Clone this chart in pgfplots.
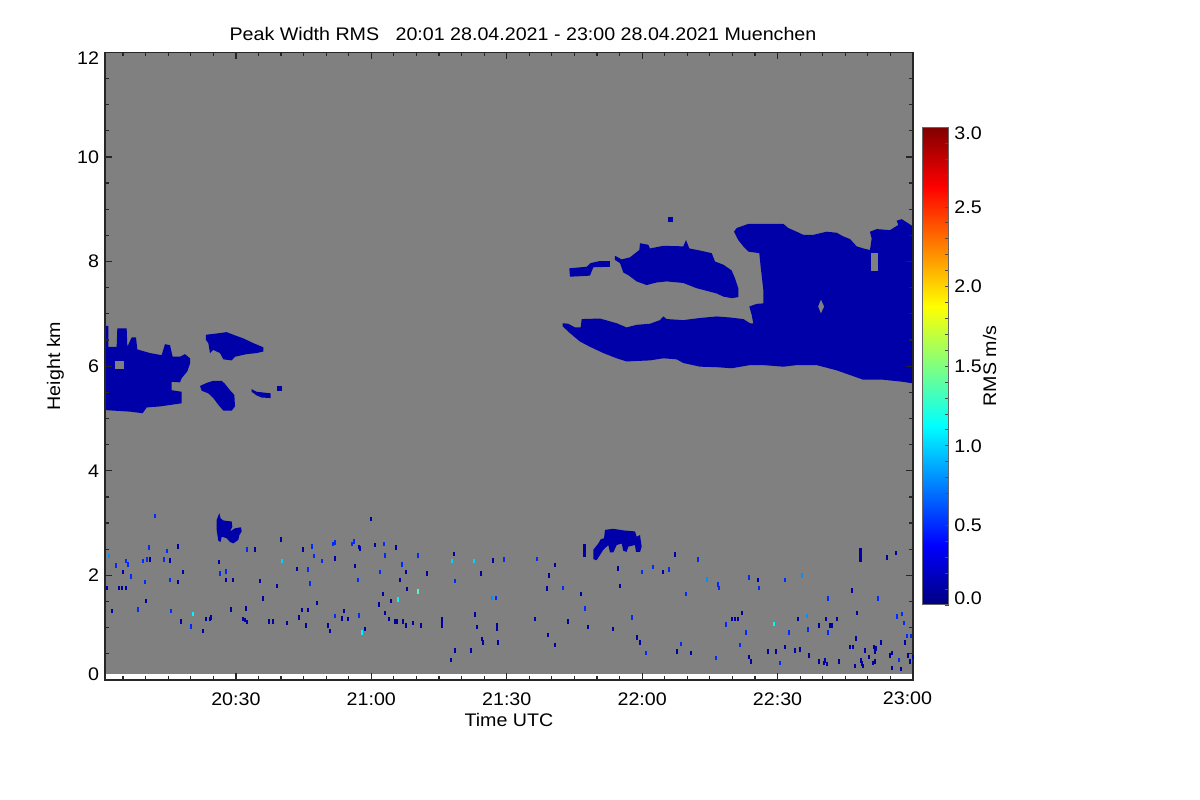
\documentclass[border=0pt]{standalone}
\usepackage{fontspec}
\setmainfont{Liberation Sans}[FakeStretch=1.08]
\usepackage{pgfplots}
\usepackage{pgfplotstable}
\pgfplotsset{compat=1.18}
\definecolor{bg}{RGB}{128,128,128}
\definecolor{cloud}{rgb}{0,0,0.66}
\pgfplotstableread{
x y v
10.60 2.54 0.5
14.59 2.47 0.5
17.02 2.56 0.1
1.89 2.38 0.8
5.58 2.28 0.5
5.95 2.22 0.5
9.27 2.28 0.5
10.23 2.31 0.5
10.82 2.31 0.1
13.92 2.31 0.5
15.25 2.29 0.1
3.29 2.20 0.5
4.84 2.07 0.1
6.76 1.99 0.5
9.71 1.88 0.5
15.25 1.92 0.5
17.02 1.88 0.1
18.13 2.07 0.1
1.37 1.77 0.1
3.95 1.77 0.1
4.62 1.77 0.1
5.50 1.77 0.1
9.93 1.52 0.1
2.40 1.33 0.1
8.16 1.36 0.5
15.47 1.33 0.5
20.49 1.27 1.1
17.69 1.13 0.1
19.90 1.03 0.5
22.56 0.95 0.1
23.23 1.17 0.1
24.11 1.17 0.1
24.33 1.20 0.1
26.11 2.26 0.1
27.66 2.08 0.5
27.66 1.92 0.1
29.21 1.92 0.1
26.40 2.04 0.5
28.76 1.36 0.1
31.42 1.17 0.1
32.01 1.16 0.1
32.46 1.12 0.1
32.09 1.38 0.1
35.85 1.57 0.1
35.19 1.90 0.1
38.95 1.81 0.1
32.31 2.50 0.5
34.08 2.50 0.1
39.84 2.69 0.1
37.26 1.13 0.1
38.07 1.13 0.1
41.17 1.10 0.1
40.06 2.28 1.0
43.38 2.13 0.1
44.71 2.50 0.1
46.71 2.56 0.5
47.22 2.38 0.5
45.82 2.12 0.5
46.26 1.85 0.5
48.92 2.28 0.5
51.80 2.33 0.1
51.43 2.61 0.5
51.80 2.64 0.5
55.72 2.61 0.5
56.08 2.66 0.5
57.27 2.55 0.1
57.49 2.52 0.1
56.23 2.19 0.1
56.89 1.92 0.5
47.81 1.48 0.1
44.49 1.35 0.1
45.82 1.35 0.1
53.80 1.33 0.1
51.80 1.23 0.5
53.35 1.18 0.1
54.68 1.17 0.1
57.12 1.24 0.5
43.83 1.20 0.1
45.38 1.05 0.1
50.25 1.05 0.1
50.69 0.95 0.1
57.78 0.92 1.1
58.45 0.98 0.1
60.66 2.59 0.1
62.66 2.61 0.5
65.31 2.54 0.1
62.88 2.39 0.5
70.19 2.39 0.5
78.16 2.42 0.1
66.64 2.22 0.5
67.53 2.07 0.1
61.77 2.07 0.5
72.18 2.04 0.1
66.20 1.92 0.1
67.75 1.75 0.1
62.43 1.65 0.1
64.21 1.52 0.1
65.76 1.55 1.1
70.19 1.70 1.35
61.55 1.45 0.1
62.88 1.29 0.1
63.76 1.17 0.1
65.09 1.13 0.1
65.68 1.13 0.1
66.94 1.13 0.1
69.08 1.10 0.1
70.85 1.05 0.1
67.53 1.05 0.1
75.50 1.17 0.1
75.50 1.10 0.1
75.50 1.05 0.1
78.38 1.90 0.5
77.79 2.28 1.0
82.67 2.28 1.0
84.14 2.04 0.1
86.80 2.29 0.1
89.24 2.31 0.5
87.54 1.58 0.5
86.58 1.58 0.8
82.81 1.26 0.1
83.26 1.02 0.1
87.69 1.06 0.1
87.69 0.98 0.1
84.36 0.79 0.1
84.59 0.73 0.1
87.91 0.73 0.1
81.93 0.57 0.1
78.38 0.57 0.1
77.50 0.39 0.1
96.55 2.32 0.5
100.54 2.21 0.1
99.21 2.01 0.1
98.76 1.76 0.1
102.31 1.77 0.5
106.30 1.65 0.1
107.18 1.38 0.5
96.11 1.17 0.1
103.56 1.13 0.1
98.99 0.87 0.1
100.54 0.68 0.1
107.85 1.02 0.1
113.38 0.98 0.1
114.49 2.14 0.1
114.93 1.81 0.1
117.59 1.20 0.5
119.96 2.07 0.5
118.70 0.82 0.1
119.37 0.73 0.1
122.25 2.17 0.5
124.47 2.07 0.1
125.80 2.12 0.5
127.13 2.41 0.1
132.22 2.31 0.5
134.22 1.93 0.8
136.65 1.83 0.5
137.02 1.77 0.5
129.56 1.65 0.5
143.52 1.97 0.5
145.66 1.92 0.1
145.74 1.77 0.5
151.49 1.92 0.5
155.26 2.01 0.8
161.17 1.57 0.5
166.41 1.72 0.1
172.10 1.57 0.5
174.09 2.35 0.1
176.08 2.44 0.1
141.97 1.29 0.1
139.83 1.17 0.1
140.57 1.17 0.1
141.08 1.17 0.1
138.43 1.07 0.5
142.86 0.92 0.5
149.13 1.08 1.1
154.52 1.17 0.1
156.52 1.23 0.8
160.65 1.17 0.1
163.16 1.17 0.1
159.03 1.05 0.1
161.46 1.05 0.1
162.05 1.05 0.1
156.59 0.97 0.5
161.02 0.92 0.5
152.38 0.92 0.5
167.44 1.29 0.1
176.30 1.22 0.5
177.41 1.27 0.5
177.93 1.10 0.5
167.22 0.80 0.1
120.70 0.52 0.5
127.57 0.55 0.1
128.46 0.70 0.5
130.67 0.52 0.1
136.21 0.43 0.5
141.53 0.68 0.5
143.52 0.45 0.1
143.96 0.36 0.1
147.73 0.55 0.1
149.50 0.55 0.1
150.39 0.33 0.5
151.49 0.64 0.1
153.71 0.57 0.1
154.89 0.59 0.1
156.81 0.48 0.1
159.03 0.36 0.1
160.36 0.38 0.1
160.14 0.33 0.1
160.80 0.31 0.1
163.46 0.36 0.1
165.89 0.64 0.1
166.56 0.64 0.1
167.00 0.28 0.1
168.33 0.38 0.1
168.70 0.32 0.1
168.77 0.28 0.1
169.22 0.57 0.1
170.10 0.45 0.1
170.99 0.33 0.1
171.21 0.64 0.1
171.43 0.55 0.1
171.65 0.61 0.1
171.50 0.36 0.1
172.76 0.73 0.1
174.76 0.48 0.1
175.20 0.52 0.1
175.20 0.24 0.1
176.90 0.39 0.5
177.19 0.22 0.1
178.08 0.73 0.1
178.59 0.85 0.5
179.41 0.85 0.5
178.82 0.48 0.1
179.18 0.36 0.1
179.85 0.45 0.1
59.93 3.09 0.1
12.08 3.14 0.5
}\speckles
\begin{document}
\fontsize{9.1bp}{10.9bp}\selectfont
\begin{tikzpicture}
\path[use as bounding box] (0,0) rectangle (600bp,400bp);
\begin{axis}[
  at={(52.5bp,60bp)}, anchor=south west, scale only axis,
  width=404bp, height=313.85bp,
  xmin=1, xmax=180, ymin=0, ymax=12,
  axis on top,
  axis line style={black!85, line width=0.6bp},
  every tick/.style={black!85, line width=0.6bp},
  major tick length=3.35bp, minor tick length=2bp,
  xtick={30,60,90,120,150,180},
  xticklabels={20:30,21:00,21:30,22:00,22:30,},
  minor xtick={5,10,...,175},
  ytick={0,2,...,12},
  yticklabels={,2,4,6,8,10,},
  minor ytick={0.5,1,...,11.5},
  xticklabel style={anchor=base, inner sep=0pt, yshift=-12.5bp},
  yticklabel style={anchor=east, inner sep=0pt, xshift=-2.75bp},
  /pgf/number format/assume math mode=true,
  colormap/jet, point meta min=0, point meta max=3,
]
% background (no-data gray area)
\addplot[fill=bg, draw=none, forget plot] coordinates {(1,0.115) (180,0.115) (180,12) (1,12)} -- cycle;
% cloud A
\addplot[fill=cloud, draw=none, forget plot] coordinates {
(1,6.77) (1.74,6.77) (1.74,6.37) (3.58,6.37) (3.73,6.72) (5.80,6.72) (5.95,6.37)
(6.91,6.55) (7.87,6.55) (8.16,6.32) (10.97,6.25) (13.55,6.21) (14.29,6.42) (15.40,6.40)
(15.99,6.18) (17.61,6.18) (18.72,6.23) (19.83,6.15) (19.83,6.05) (19.24,5.90) (17.98,5.77)
(17.61,5.69) (15.77,5.70) (15.77,5.54) (17.98,5.51) (17.98,5.29) (13.18,5.23) (10.23,5.21)
(9.34,5.10) (6.54,5.13) (2.85,5.15) (1,5.16)} -- cycle;
\addplot[fill=bg, draw=none, forget plot] coordinates {(3.22,5.94) (5.21,5.94) (5.21,6.10) (3.22,6.10)} -- cycle;
% cloud B
\addplot[fill=cloud, draw=none, forget plot] coordinates {
(23.37,6.60) (25.37,6.62) (27.95,6.65) (29.43,6.60) (31.65,6.53) (33.86,6.44) (36.08,6.36)
(36.08,6.28) (34.60,6.25) (32.38,6.23) (29.80,6.18) (29.06,6.11) (27.22,6.13) (26.48,6.25)
(25.00,6.31) (24.26,6.25) (23.89,6.44) (23.37,6.50)} -- cycle;
% cloud C
\addplot[fill=cloud, draw=none, forget plot] coordinates {
(22.05,5.62) (23.52,5.68) (25.00,5.72) (26.85,5.72) (27.58,5.66) (28.69,5.54) (29.65,5.45)
(29.80,5.23) (29.06,5.15) (27.22,5.15) (26.11,5.26) (25.00,5.39) (23.89,5.48) (22.42,5.53)} -- cycle;
% small bits D
\addplot[fill=cloud, draw=none, forget plot] coordinates {
(33.49,5.56) (34.60,5.51) (37.70,5.48) (37.70,5.39) (35.71,5.40) (34.60,5.44) (33.49,5.51)} -- cycle;
\addplot[fill=cloud, draw=none, forget plot] coordinates {(39.03,5.53) (40.14,5.53) (40.14,5.62) (39.03,5.62)} -- cycle;
% cloud E
\addplot[fill=cloud, draw=none, forget plot] coordinates {
(103.86,7.87) (107.70,7.90) (108.59,7.97) (110.66,8.01) (112.87,8.01) (112.87,7.90)
(109.18,7.89) (108.44,7.73) (104.01,7.71)} -- cycle;
% cloud F
\addplot[fill=cloud, draw=none, forget plot] coordinates {
(113.98,8.11) (115.46,8.04) (117.30,8.08) (119.37,8.22) (119.52,8.35) (121.36,8.32) (121.73,8.25)
(124.69,8.30) (129.12,8.29) (129.71,8.41) (130.45,8.25) (132.81,8.21) (135.40,8.16) (136.13,8.00)
(137.98,7.94) (139.82,7.83) (140.56,7.68) (141.30,7.49) (141.30,7.32) (139.82,7.30) (137.98,7.33)
(136.50,7.39) (132.07,7.49) (129.12,7.59) (125.43,7.62) (123.21,7.60) (121.00,7.55) (118.78,7.62)
(116.93,7.74) (115.83,7.79) (115.09,7.97) (113.98,8.03)} -- cycle;
\addplot[fill=cloud, draw=none, forget plot] coordinates {(125.8,8.76) (126.8,8.76) (126.8,8.86) (125.8,8.86)} -- cycle;
% cloud G
\addplot[fill=cloud, draw=none, forget plot] coordinates {
(102.39,6.82) (103.64,6.81) (105.12,6.74) (106.37,6.74) (106.60,6.90) (110.66,6.91) (114.35,6.82)
(116.56,6.74) (118.78,6.79) (121.73,6.81) (123.95,6.88) (124.69,6.95) (125.43,6.90) (129.12,6.88)
(132.81,6.92) (136.50,6.95) (139.46,6.93) (142.41,6.90) (143.89,6.82) (144.62,6.82) (144.26,6.98)
(143.74,7.14) (145.36,7.19) (146.84,7.20) (146.84,7.46) (146.25,7.90) (145.95,8.16) (143.52,8.19)
(142.41,8.29) (141.30,8.41) (140.34,8.57) (140.93,8.64) (143.52,8.72) (147.58,8.72) (151.27,8.72)
(152.38,8.64) (154.22,8.57) (155.70,8.51) (157.92,8.51) (160.87,8.57) (163.09,8.55) (164.56,8.48)
(166.04,8.43) (167.52,8.29) (169.00,8.25) (170.47,8.22) (170.84,8.44) (170.47,8.57) (171.95,8.62)
(174.90,8.60) (176.75,8.70) (176.38,8.78) (177.49,8.81) (178.96,8.73) (180,8.67) (180,5.67)
(177.86,5.70) (173.42,5.74) (169.00,5.74) (166.04,5.83) (163.09,5.92) (158.66,6.02) (154.22,6.02)
(151.27,5.99) (146.84,6.02) (143.89,6.02) (139.82,5.96) (136.50,5.98) (132.81,5.99) (129.12,6.06)
(127.64,6.13) (124.69,6.15) (121.73,6.11) (116.56,6.09) (114.35,6.15) (111.40,6.25) (108.44,6.37)
(106.23,6.47) (104.01,6.63) (102.39,6.76)} -- cycle;
\addplot[fill=bg, draw=none, forget plot] coordinates {(159.0,7.14) (159.6,7.01) (160.3,7.14) (159.6,7.27)} -- cycle;
\addplot[fill=bg, draw=none, forget plot] coordinates {(170.8,7.81) (172.3,7.81) (172.3,8.16) (170.8,8.16)} -- cycle;
% low cloud H
\addplot[fill=cloud, draw=none, forget plot] coordinates {
(25.74,3.06) (26.33,3.19) (26.62,3.09) (27.21,3.05) (29.06,3.03) (29.21,2.93) (28.69,2.84)
(29.80,2.90) (31.13,2.92) (31.28,2.84) (30.76,2.77) (30.54,2.68) (29.43,2.61) (28.69,2.64)
(27.95,2.71) (26.85,2.74) (26.62,2.64) (26.11,2.66) (25.74,2.87)} -- cycle;
% low cloud I
\addplot[fill=cloud, draw=none, forget plot] coordinates {
(109.18,2.31) (109.18,2.49) (110.29,2.61) (110.81,2.69) (111.55,2.71) (111.77,2.87) (113.61,2.89)
(115.83,2.86) (118.41,2.84) (118.78,2.74) (119.52,2.77) (119.89,2.55) (119.52,2.45) (118.63,2.45)
(118.41,2.58) (116.93,2.55) (116.56,2.45) (115.83,2.47) (115.46,2.61) (114.35,2.58) (113.61,2.44)
(112.87,2.44) (112.50,2.58) (111.40,2.49) (110.66,2.39) (109.92,2.29)} -- cycle;
\addplot[fill=cloud, draw=none, forget plot] coordinates {(106.97,2.36) (107.56,2.36) (107.56,2.60) (106.97,2.60)} -- cycle;
\addplot[fill=cloud, draw=none, forget plot] coordinates {(167.96,2.25) (168.63,2.25) (168.63,2.53) (167.96,2.53)} -- cycle;
% speckles
\addplot[scatter, only marks, mark=square*, mark size=0.25bp, point meta=explicit,
  scatter/use mapped color={draw=mapped color, fill=mapped color},
  mark options={yscale=3.5, line width=0.05bp}, forget plot] table[x=x, y=y, meta=v] {\speckles};
\end{axis}
% colour bar
\begin{axis}[
  at={(461.35bp,97.5bp)}, anchor=south west, scale only axis,
  width=13bp, height=238.85bp,
  xmin=0, xmax=1, ymin=0, ymax=3,
  axis on top,
  axis line style={black!60, line width=0.5bp},
  xtick=\empty,
  ytick={0,0.5,1,1.5,2,2.5,3},
  yticklabels={,0.5,1.0,1.5,2.0,2.5,},
  minor ytick={0.1,0.2,0.3,0.4,0.6,0.7,0.8,0.9,1.1,1.2,1.3,1.4,1.6,1.7,1.8,1.9,2.1,2.2,2.3,2.4,2.6,2.7,2.8,2.9},
  ytick pos=right, yticklabel pos=right,
  yticklabel style={anchor=west, inner sep=0pt, xshift=2.65bp},
  major tick length=1.75bp, minor tick length=1.75bp,
  every tick/.style={black!70, line width=0.4bp},
  /pgf/number format/assume math mode=true,
  colormap/jet, point meta min=0, point meta max=3,
]
\addplot[surf, shader=interp, point meta=y, mesh/cols=2] coordinates {(0,0) (1,0) (0,3) (1,3)};
\end{axis}
% texts
\node[anchor=base, inner sep=0pt] at (261.5bp,379.85bp) {Peak Width RMS\hspace{0.9em}20:01 28.04.2021 - 23:00 28.04.2021 Muenchen};
\node[anchor=base, inner sep=0pt] at (254.5bp,36.65bp) {Time UTC};
\node[anchor=base, inner sep=0pt, rotate=90] at (30bp,217bp) {Height km};
\node[anchor=base, inner sep=0pt, rotate=90] at (498bp,217bp) {RMS m/s};
\node[anchor=east, inner sep=0pt] at (49.75bp,63bp) {0};
\node[anchor=east, inner sep=0pt] at (49.75bp,370.75bp) {12};
\node[anchor=base, inner sep=0pt] at (453.75bp,47.5bp) {23:00};
\node[anchor=west, inner sep=0pt] at (477bp,333.5bp) {3.0};
\node[anchor=west, inner sep=0pt] at (477bp,101bp) {0.0};
\end{tikzpicture}
\end{document}
